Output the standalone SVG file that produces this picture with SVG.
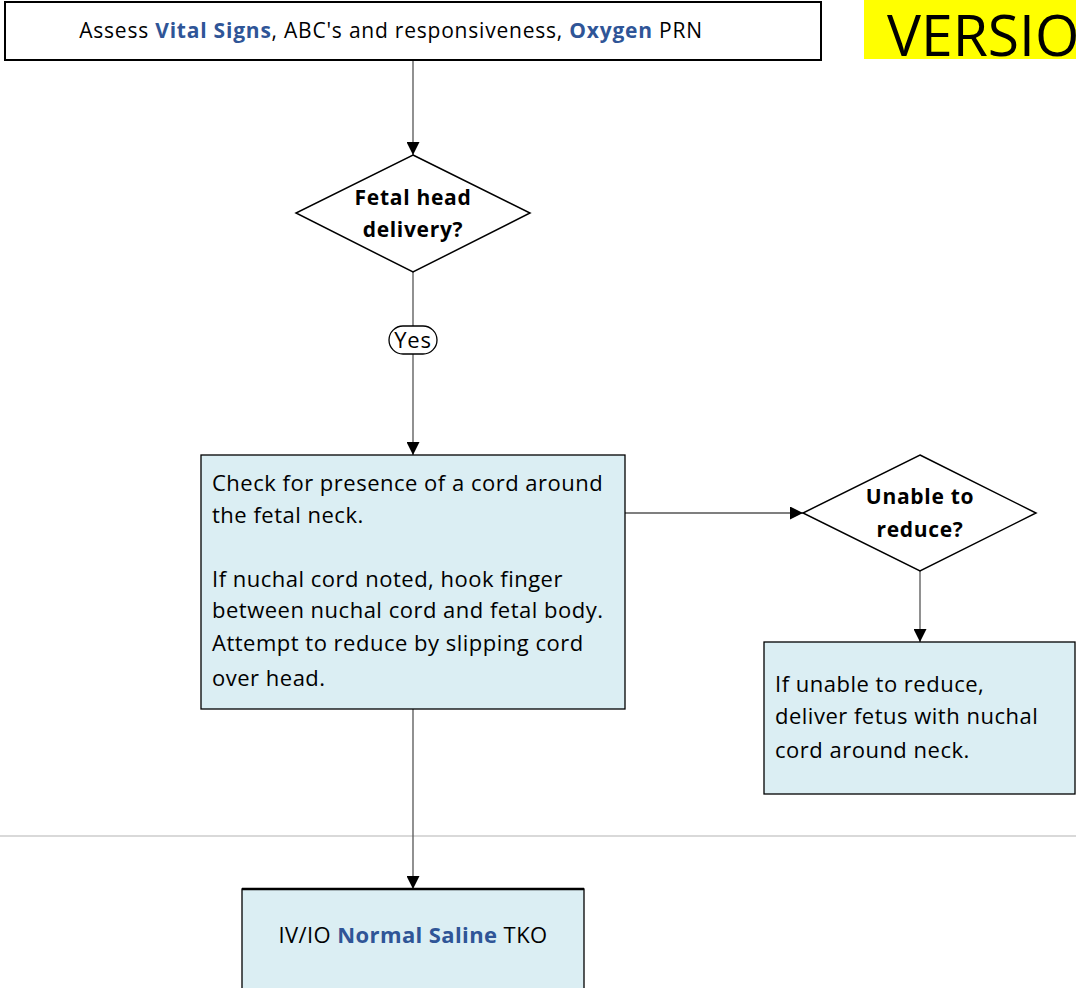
<svg xmlns="http://www.w3.org/2000/svg" width="1076" height="988" viewBox="0 0 1076 988">
<style>
text{font-family:"Open Sans",Lato,sans-serif;fill:#000}
.t{font-size:22px;letter-spacing:0.5px}
.b{font-weight:bold;font-size:21px;letter-spacing:0.7px}
.hl{fill:#2f5597;font-weight:bold}
.box{fill:#dbeef3;stroke:#000;stroke-width:1.3}
.dia{fill:#fff;stroke:#000;stroke-width:1.5}
.con{stroke:#555;stroke-width:1.3;fill:none}
</style>
<defs>
<marker id="ah" viewBox="0 0 10 10" refX="10" refY="5" markerWidth="13" markerHeight="13" markerUnits="userSpaceOnUse" orient="auto">
<path d="M0,0 L10,5 L0,10 z" fill="#000"/>
</marker>
</defs>
<line x1="0" y1="836" x2="1076" y2="836" stroke="#d9d9d9" stroke-width="2"/>
<g id="connectors">
<line class="con" x1="413" y1="61" x2="413" y2="155" marker-end="url(#ah)"/>
<line class="con" x1="413" y1="272" x2="413" y2="326"/>
<line class="con" x1="413" y1="354" x2="413" y2="455" marker-end="url(#ah)"/>
<line class="con" x1="625" y1="513" x2="803" y2="513" marker-end="url(#ah)"/>
<line class="con" x1="920" y1="571" x2="920" y2="642" marker-end="url(#ah)"/>
<line class="con" x1="413" y1="709" x2="413" y2="889" marker-end="url(#ah)"/>
</g>
<g id="assess">
<rect x="5" y="2" width="816" height="58" fill="#fff" stroke="#000" stroke-width="2"/>
<text x="391" y="38" text-anchor="middle" font-size="21" letter-spacing="0.78">Assess <tspan class="hl">Vital Signs</tspan>, ABC's and responsiveness, <tspan class="hl">Oxygen</tspan> PRN</text>
</g>
<g id="version">
<rect x="864" y="0" width="212" height="59" fill="#ffff00"/>
<text x="887" y="56" font-size="57">VERSIO</text>
</g>
<g id="fetal-head">
<polygon class="dia" points="413,155 530,213 413,272 296,213"/>
<text class="b" x="413" y="205" text-anchor="middle">Fetal head</text>
<text class="b" x="413" y="237" text-anchor="middle">delivery?</text>
</g>
<g id="yes">
<rect x="389" y="326" width="48" height="28" rx="14" fill="#fff" stroke="#000" stroke-width="1.3"/>
<text x="413" y="348" text-anchor="middle" font-size="22" letter-spacing="0.8">Yes</text>
</g>
<g id="check-cord">
<rect class="box" x="201" y="455" width="424" height="254"/>
<text class="t" x="212" y="491">Check for presence of a cord around</text>
<text class="t" x="212" y="523">the fetal neck.</text>
<text class="t" x="212" y="587">If nuchal cord noted, hook finger</text>
<text class="t" x="212" y="618">between nuchal cord and fetal body.</text>
<text class="t" x="212" y="651">Attempt to reduce by slipping cord</text>
<text class="t" x="212" y="686">over head.</text>
</g>
<g id="unable">
<polygon class="dia" points="920,455 1036,513 920,571 803,513"/>
<text class="b" x="920" y="504" text-anchor="middle">Unable to</text>
<text class="b" x="920" y="537" text-anchor="middle">reduce?</text>
</g>
<g id="deliver">
<rect class="box" x="764" y="642" width="311" height="152"/>
<text class="t" x="775" y="692">If unable to reduce,</text>
<text class="t" x="775" y="724">deliver fetus with nuchal</text>
<text class="t" x="775" y="758">cord around neck.</text>
</g>
<g id="saline">
<rect class="box" x="242" y="889" width="342" height="104" stroke-width="1.5"/>
<line x1="242" y1="889" x2="584" y2="889" stroke="#000" stroke-width="2.5"/>
<text x="413" y="943" text-anchor="middle" font-size="22" letter-spacing="0.4">IV/IO <tspan class="hl">Normal Saline</tspan> TKO</text>
</g>
</svg>
